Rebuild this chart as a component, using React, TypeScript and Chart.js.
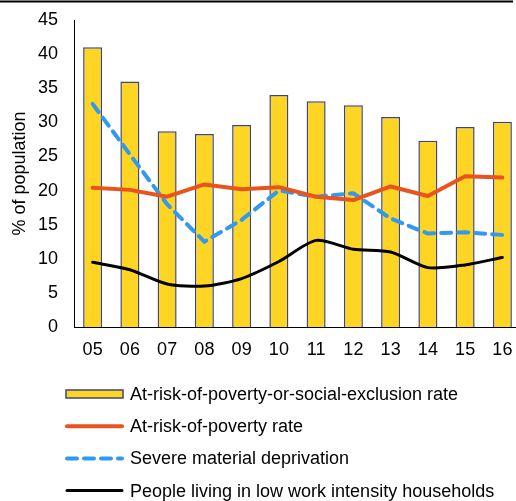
import React, { useEffect, useRef } from "react";
import { Chart, registerables } from "chart.js";

Chart.register(...registerables);

// Years (two-digit labels)
const years = ["05", "06", "07", "08", "09", "10", "11", "12", "13", "14", "15", "16"];

// % of population
const aropeRate = [41.0, 36.0, 28.7, 28.3, 29.6, 34.0, 33.1, 32.5, 30.8, 27.3, 29.3, 30.1];
const povertyRate = [20.4, 20.1, 19.1, 20.9, 20.2, 20.5, 19.1, 18.6, 20.6, 19.2, 22.1, 21.9];
const materialDeprivation = [32.7, 25.3, 18.0, 12.5, 15.7, 20.0, 19.1, 19.6, 15.9, 13.7, 13.9, 13.5];
const lowWorkIntensity = [9.5, 8.4, 6.3, 6.0, 7.1, 9.6, 12.7, 11.4, 11.0, 8.7, 9.1, 10.2];

const yTicks = { min: 0, max: 45, step: 5 };

const FONT = "'Liberation Sans', Arial, sans-serif";
const FONT_SIZE = 18;

// Draws the stacked legend below the plot, one entry per row
const stackedLegend = {
  id: "stackedLegend",
  afterDraw(chart: any) {
    const ctx = chart.ctx;
    const x0 = 66;
    const sampleW = 57;
    const textX = 130;
    const firstY = 394;
    const rowH = 32.2;
    ctx.save();
    ctx.font = `${FONT_SIZE}px ${FONT}`;
    ctx.textBaseline = "middle";
    ctx.fillStyle = "#000";
    chart.data.datasets.forEach((ds: any, i: number) => {
      const y = firstY + i * rowH;
      if (ds.type === "bar") {
        ctx.fillStyle = ds.backgroundColor;
        ctx.strokeStyle = ds.borderColor;
        ctx.lineWidth = 1.5;
        ctx.fillRect(x0, y - 4, sampleW, 8);
        ctx.strokeRect(x0, y - 4, sampleW, 8);
      } else {
        ctx.strokeStyle = ds.borderColor;
        ctx.lineWidth = ds.borderWidth;
        ctx.lineCap = "round";
        ctx.setLineDash(ds.borderDash || []);
        ctx.beginPath();
        ctx.moveTo(x0 + 1, y);
        ctx.lineTo(x0 + sampleW - 1, y);
        ctx.stroke();
        ctx.setLineDash([]);
      }
      ctx.fillStyle = "#000";
      ctx.fillText(ds.label, textX, y + 1);
    });
    ctx.restore();
  },
};

// Thin rule across the top edge
const topRule = {
  id: "topRule",
  afterDraw(chart: any) {
    const ctx = chart.ctx;
    ctx.save();
    ctx.strokeStyle = "#000";
    ctx.lineWidth = 2;
    ctx.beginPath();
    ctx.moveTo(0, 1.5);
    ctx.lineTo(513, 1.5);
    ctx.stroke();
    ctx.restore();
  },
};

export default function App() {
  const canvasRef = useRef<HTMLCanvasElement | null>(null);

  useEffect(() => {
    document.body.style.margin = "0";
    document.body.style.overflow = "hidden";
    const canvas = canvasRef.current;
    if (!canvas) return;
    const chart = new Chart(canvas, {
      data: {
        labels: years,
        datasets: [
          {
            type: "bar",
            label: "At-risk-of-poverty-or-social-exclusion rate",
            data: aropeRate,
            backgroundColor: "#FFD524",
            borderColor: "#3E4679",
            borderWidth: 1.5,
            categoryPercentage: 1,
            barPercentage: 0.51,
            order: 10,
          },
          {
            type: "line",
            label: "At-risk-of-poverty rate",
            data: povertyRate,
            borderColor: "#E9531D",
            borderWidth: 4,
            pointRadius: 0,
            tension: 0,
            borderJoinStyle: "round",
            borderCapStyle: "round",
            order: 1,
          },
          {
            type: "line",
            label: "Severe material deprivation",
            data: materialDeprivation,
            borderColor: "#3399EE",
            borderWidth: 4,
            borderDash: [10, 7],
            pointRadius: 0,
            tension: 0,
            borderCapStyle: "round",
            order: 2,
          },
          {
            type: "line",
            label: "People living in low work intensity households",
            data: lowWorkIntensity,
            borderColor: "#000000",
            borderWidth: 3,
            pointRadius: 0,
            tension: 0.25,
            borderCapStyle: "round",
            order: 3,
          },
        ] as any,
      },
      options: {
        responsive: false,
        animation: false,
        devicePixelRatio: 1,
        layout: { padding: { top: 20, right: 9, bottom: 134, left: 0 } },
        plugins: {
          legend: { display: false },
          tooltip: { enabled: false },
        },
        scales: {
          x: {
            grid: { display: false, drawTicks: false },
            border: { display: true, color: "#000", width: 1 },
            ticks: { color: "#000", font: { family: FONT, size: FONT_SIZE }, padding: 12, maxRotation: 0 },
            afterFit(scale: any) {
              scale.height = 40;
            },
          },
          y: {
            min: yTicks.min,
            max: yTicks.max,
            grid: { display: false, drawTicks: true, tickLength: 13 },
            border: { display: true, color: "#000", width: 1 },
            ticks: {
              stepSize: yTicks.step,
              color: "#000",
              font: { family: FONT, size: FONT_SIZE },
              padding: 3,
            },
            title: {
              display: true,
              text: "% of population",
              color: "#000",
              font: { family: FONT, size: FONT_SIZE },
              padding: { top: 9, bottom: 0 },
            },
            afterFit(scale: any) {
              scale.width = 74;
            },
          },
        },
      },
      plugins: [stackedLegend, topRule],
    });
    return () => chart.destroy();
  }, []);

  return (
    <div style={{ width: 516, height: 501, overflow: "hidden", position: "relative" }}>
      <canvas ref={canvasRef} width={530} height={501} style={{ display: "block" }} />
    </div>
  );
}
